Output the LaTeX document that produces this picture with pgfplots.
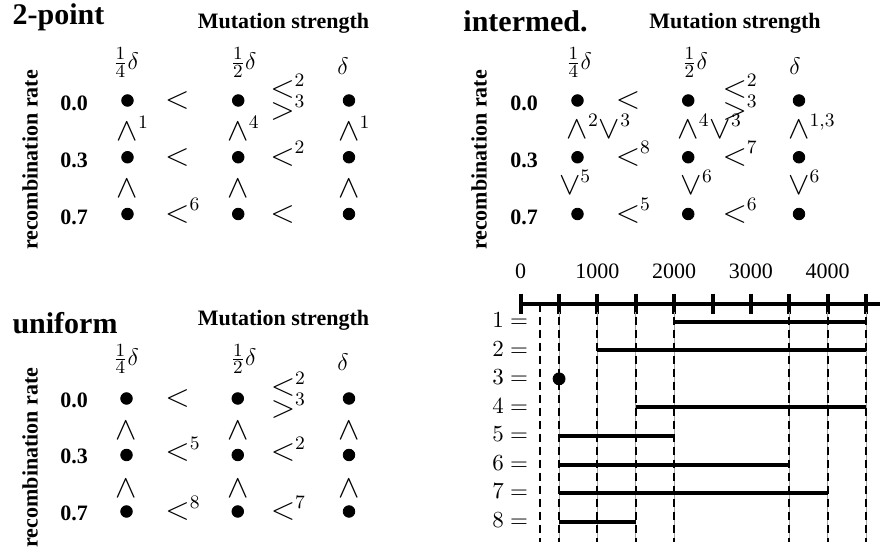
\RequirePackage{fix-cm}
\documentclass[border=0pt]{standalone}
\usepackage[no-math]{fontspec}
\setmainfont{Liberation Serif}
\usepackage{mathtools}
\usepackage{pgfplots}
\pgfplotsset{compat=1.18}
\newcommand{\sx}[1]{\hbox{\fontsize{9.5}{11}\selectfont$#1$}}
\newcommand{\R}[2]{$\mathord{#1}\mathrlap{^{\sx{#2}}}$}
\newcommand{\F}[2]{$\frac{\hbox{\fontsize{9.3}{10}\selectfont$#1$}}{\hbox{\fontsize{9.3}{10}\selectfont$#2$}}\delta$}
\begin{document}
\begin{tikzpicture}
\useasboundingbox (0,0) rectangle (445pt,278pt);
\tikzset{rel/.style={font=\fontsize{16}{19}\selectfont, anchor=base, yshift=-4.1pt, inner sep=0pt}}
\pgfplotsset{
  mat/.style={hide axis, scale only axis, clip=false, xmin=-0.5, xmax=2.5, ymin=-0.5, ymax=2.5, y dir=reverse, anchor=south west},
  dots/.style={only marks, mark=*, mark size=2.9pt, black}
}
% ---------- 2-point ----------
\begin{axis}[mat, at={(36.06pt,156.81pt)}, width=166.125pt, height=85.125pt]
\addplot[dots] coordinates {(0,0) (1,0) (2,0) (0,1) (1,1) (2,1) (0,2) (1,2) (2,2)};
\node[rel] at (axis cs:0.45,0) {$<$};
\node[rel] at (axis cs:1.40,-0.19) {\R{<}{2}};
\node[rel] at (axis cs:1.40,0.19) {\R{>}{3}};
\node[rel] at (axis cs:0,0.56) {\R{\wedge}{1}};
\node[rel] at (axis cs:1,0.56) {\R{\wedge}{4}};
\node[rel] at (axis cs:2,0.56) {\R{\wedge}{1}};
\node[rel] at (axis cs:0.45,1) {$<$};
\node[rel] at (axis cs:1.40,1) {\R{<}{2}};
\node[rel] at (axis cs:0,1.565) {$\wedge$};
\node[rel] at (axis cs:1,1.565) {$\wedge$};
\node[rel] at (axis cs:2,1.565) {$\wedge$};
\node[rel] at (axis cs:0.45,2) {\R{<}{6}};
\node[rel] at (axis cs:1.40,2) {$<$};
\end{axis}
% ---------- intermed. ----------
\begin{axis}[mat, at={(261.06pt,156.81pt)}, width=166.125pt, height=85.125pt]
\addplot[dots] coordinates {(0,0) (1,0) (2,0) (0,1) (1,1) (2,1) (0,2) (1,2) (2,2)};
\node[rel] at (axis cs:0.456,0) {$<$};
\node[rel] at (axis cs:1.42,-0.19) {\R{<}{2}};
\node[rel] at (axis cs:1.42,0.19) {\R{>}{3}};
\node[rel] at (axis cs:0,0.52) {$\mathord{\wedge}\mathrlap{^{\sx{2}}\mathord{\vee}^{\sx{3}}}$};
\node[rel] at (axis cs:1,0.52) {$\mathord{\wedge}\mathrlap{^{\sx{4}}\mathord{\vee}^{\sx{3}}}$};
\node[rel] at (axis cs:2,0.52) {\R{\wedge}{1{,}3}};
\node[rel] at (axis cs:0.456,1) {\R{<}{8}};
\node[rel] at (axis cs:1.42,1) {\R{<}{7}};
\node[rel] at (axis cs:-0.07,1.51) {\R{\vee}{5}};
\node[rel] at (axis cs:1.03,1.51) {\R{\vee}{6}};
\node[rel] at (axis cs:2,1.51) {\R{\vee}{6}};
\node[rel] at (axis cs:0.456,2) {\R{<}{5}};
\node[rel] at (axis cs:1.42,2) {\R{<}{6}};
\end{axis}
% ---------- uniform ----------
\begin{axis}[mat, at={(35.44pt,8.125pt)}, width=166.875pt, height=84.75pt]
\addplot[dots] coordinates {(0,0) (1,0) (2,0) (0,1) (1,1) (2,1) (0,2) (1,2) (2,2)};
\node[rel] at (axis cs:0.46,0) {$<$};
\node[rel] at (axis cs:1.407,-0.19) {\R{<}{2}};
\node[rel] at (axis cs:1.407,0.19) {\R{>}{3}};
\node[rel] at (axis cs:0,0.584) {$\wedge$};
\node[rel] at (axis cs:1,0.584) {$\wedge$};
\node[rel] at (axis cs:2,0.584) {$\wedge$};
\node[rel] at (axis cs:0.46,0.96) {\R{<}{5}};
\node[rel] at (axis cs:1.407,0.96) {\R{<}{2}};
\node[rel] at (axis cs:0,1.60) {$\wedge$};
\node[rel] at (axis cs:1,1.60) {$\wedge$};
\node[rel] at (axis cs:2,1.60) {$\wedge$};
\node[rel] at (axis cs:0.46,2) {\R{<}{8}};
\node[rel] at (axis cs:1.407,2) {\R{<}{7}};
\end{axis}
% ---------- interval chart ----------
\begin{axis}[scale only axis, at={(260.35pt,7.15pt)}, anchor=south west,
  width=179.65pt, height=119.1pt, xmin=0, xmax=4681, ymin=-8.70, ymax=-0.363,
  axis x line*=top, axis y line=none, clip=false, scaled x ticks=false,
  xtick={0,500,...,4500}, xticklabels={0,,1000,,2000,,3000,,4000,},
  x axis line style={line width=2pt,-}, xtick style={line width=2pt, black},
  major tick length=10pt, tick align=center,
  xticklabel style={font=\fontsize{11}{13}\selectfont, yshift=4pt}, ytick=\empty]
\pgfplotsinvokeforeach{500,1000,1500,2000,3500,4000,4500}{
  \addplot[gray!70, line width=0.4pt] coordinates {(#1,-0.363) (#1,-8.70)};}
\pgfplotsinvokeforeach{250,500,1000,1500,2000,3500,4000,4500}{
  \addplot[black, line width=1pt, dash pattern=on 4pt off 2.5pt] coordinates {(#1,-0.363) (#1,-8.70)};}
\addplot[line width=2pt] coordinates {(2000,-1) (4500,-1)};
\addplot[line width=2pt] coordinates {(1000,-2) (4500,-2)};
\addplot[only marks, mark=*, mark size=3pt, black] coordinates {(500,-3)};
\addplot[line width=2pt] coordinates {(1500,-4) (4500,-4)};
\addplot[line width=2pt] coordinates {(500,-5) (2000,-5)};
\addplot[line width=2pt] coordinates {(500,-6) (3500,-6)};
\addplot[line width=2pt] coordinates {(500,-7) (4000,-7)};
\addplot[line width=2pt] coordinates {(500,-8) (1500,-8)};
\pgfplotsinvokeforeach{1,...,8}{
  \node[anchor=base east, inner sep=0pt, font=\fontsize{11.5}{14}\selectfont, yshift=-2.9pt] at (axis cs:101,-#1) {$#1 =$};}
\end{axis}
% ---------- texts ----------
\begin{scope}[x=0.5pt, y=-0.5pt, shift={(0,278pt)}]
\tikzset{ttl/.style={font=\bfseries\fontsize{15}{18}\selectfont, inner sep=0pt},
  lab/.style={font=\bfseries\fontsize{11}{13}\selectfont, inner sep=0pt},
  hdr/.style={font=\fontsize{12}{14}\selectfont, inner sep=0pt}}
\node[ttl] at (58.5,17.5) {2-point};
\node[ttl] at (525.5,21.5) {intermed.};
\node[ttl] at (65,323.5) {uniform};
\node[lab] at (283.5,23.5) {Mutation strength};
\node[lab] at (735,23.5) {Mutation strength};
\node[lab] at (283.5,320) {Mutation strength};
\node[lab, rotate=90] at (30,160) {recombination rate};
\node[lab, rotate=90] at (479,160) {recombination rate};
\node[lab, rotate=90] at (30,457.5) {recombination rate};
\node[lab] at (74,103.5) {0.0};
\node[lab] at (74,160.5) {0.3};
\node[lab] at (74,217) {0.7};
\node[lab] at (524,103.5) {0.0};
\node[lab] at (524,160.5) {0.3};
\node[lab] at (524,217) {0.7};
\node[lab] at (74,400) {0.0};
\node[lab] at (74,456.5) {0.3};
\node[lab] at (74,513.5) {0.7};
\node[hdr] at (126,62.5) {\F{1}{4}};
\node[hdr] at (243.5,62.5) {\F{1}{2}};
\node[hdr] at (343,66) {$\delta$};
\node[hdr] at (579,62.5) {\F{1}{4}};
\node[hdr] at (695,62.5) {\F{1}{2}};
\node[hdr] at (795,66) {$\delta$};
\node[hdr] at (126,359) {\F{1}{4}};
\node[hdr] at (243.5,359) {\F{1}{2}};
\node[hdr] at (343,362) {$\delta$};
\end{scope}
\end{tikzpicture}
\end{document}
